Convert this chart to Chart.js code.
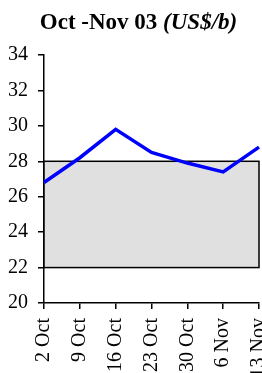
<!DOCTYPE html>
<html>
<head>
<meta charset="utf-8">
<script src="https://cdn.jsdelivr.net/npm/chart.js@4"></script>
<style>
  body { margin: 0; width: 262px; height: 373px; overflow: hidden; background: #fff; position: relative; }
  #priceChart { position: absolute; left: 0; top: 0; }
  #title { position: absolute; left: 0; top: 10px; width: 277px; text-align: center;
           font: bold 23px "Liberation Serif"; line-height: 1; white-space: nowrap; color: #000; }
</style>
</head>
<body>
<canvas id="priceChart" width="292" height="373"></canvas>
<div id="title">Oct -Nov 03 <i>(US$/b)</i></div>
<script>
// weekly oil price, US$ per barrel
const weeks = ['2 Oct', '9 Oct', '16 Oct', '23 Oct', '30 Oct', '6 Nov', '13 Nov'];
const prices = [26.8, 28.2, 29.8, 28.5, 27.9, 27.4, 28.8];
// shaded target band
const bandLow = 22;
const bandHigh = 28;
const yMin = 20;
const yMax = 34;
const yStep = 2;

const tickFont = { family: 'Liberation Serif', size: 20 };

// grey band with black border, drawn behind the line
const bandPlugin = {
    id: 'band',
    beforeDatasetsDraw(chart) {
        const { ctx, chartArea, scales } = chart;
        const top = scales.y.getPixelForValue(bandHigh);
        const bottom = scales.y.getPixelForValue(bandLow);
        const left = chartArea.left;
        const right = scales.x.getPixelForValue(weeks.length - 1);
        ctx.save();
        ctx.fillStyle = '#e0e0e0';
        ctx.fillRect(left, top, right - left, bottom - top);
        ctx.strokeStyle = '#000';
        ctx.lineWidth = 1.5;
        ctx.strokeRect(left, top, right - left, bottom - top);
        ctx.restore();
    }
};

const ctx = document.getElementById('priceChart').getContext('2d');
const priceChart = new Chart(ctx, {
    type: 'line',
    data: {
        labels: weeks,
        datasets: [{
            data: prices,
            borderColor: '#0000ff',
            borderWidth: 3.5,
            pointRadius: 0,
            tension: 0
        }]
    },
    options: {
        responsive: false,
        animation: false,
        devicePixelRatio: 1,
        layout: { padding: { top: 55, left: 8, right: 0, bottom: 0 } },
        plugins: { legend: { display: false }, tooltip: { enabled: false } },
        scales: {
            x: {
                offset: false,
                grid: { drawOnChartArea: false, tickLength: 6, color: '#000', lineWidth: 1.5 },
                border: { color: '#000', width: 1.5 },
                ticks: { minRotation: 90, maxRotation: 90, autoSkip: false, padding: 9, color: '#000', font: tickFont },
                afterFit(scale) { scale.height = 70; }
            },
            y: {
                min: yMin,
                max: yMax,
                grid: { drawOnChartArea: false, tickLength: 6, color: '#000', lineWidth: 1.5 },
                border: { color: '#000', width: 1.5 },
                ticks: { stepSize: yStep, padding: 10, color: '#000', font: tickFont },
                afterFit(scale) { scale.width = 36; }
            }
        }
    },
    plugins: [bandPlugin]
});
</script>
</body>
</html>
